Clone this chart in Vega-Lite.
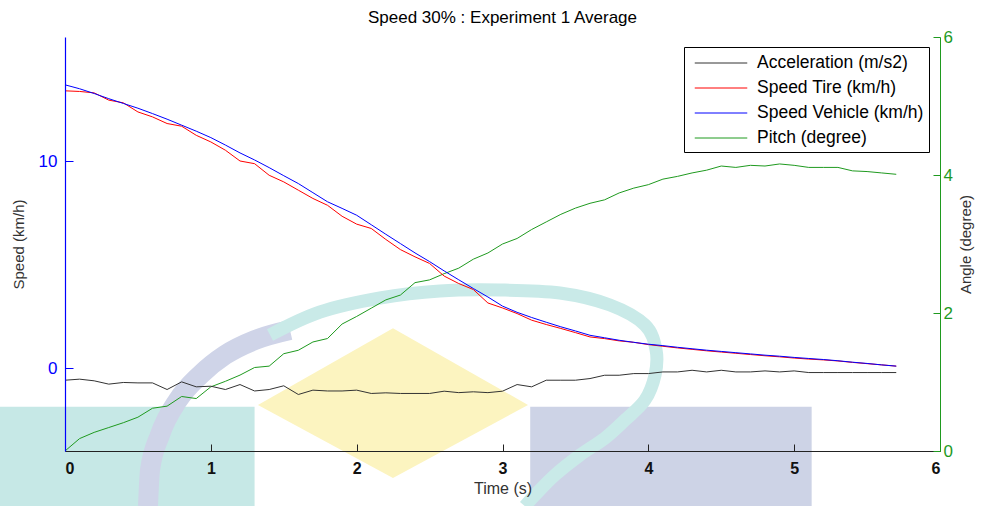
{
  "$schema": "https://vega.github.io/schema/vega-lite/v6.json",
  "width": 875,
  "height": 414,
  "autosize": {"type": "none"},
  "padding": {"left": 65, "top": 37, "right": 44, "bottom": 55},
  "background": "white",
  "title": {
    "text": "Speed 30% : Experiment 1 Average",
    "font": "Liberation Sans",
    "fontSize": 17,
    "fontWeight": "normal",
    "color": "#000000",
    "anchor": "middle",
    "offset": 1
  },
  "datasets": {
    "run": [
      {"t": 0.0, "acc": -0.58, "tire": 13.40, "veh": 13.69, "pitch": 0.00},
      {"t": 0.1, "acc": -0.53, "tire": 13.37, "veh": 13.50, "pitch": 0.18},
      {"t": 0.2, "acc": -0.61, "tire": 13.30, "veh": 13.27, "pitch": 0.27},
      {"t": 0.3, "acc": -0.77, "tire": 12.95, "veh": 13.02, "pitch": 0.34},
      {"t": 0.4, "acc": -0.69, "tire": 12.82, "veh": 12.79, "pitch": 0.41},
      {"t": 0.5, "acc": -0.71, "tire": 12.38, "veh": 12.56, "pitch": 0.49},
      {"t": 0.6, "acc": -0.71, "tire": 12.14, "veh": 12.30, "pitch": 0.62},
      {"t": 0.7, "acc": -1.03, "tire": 11.82, "veh": 12.03, "pitch": 0.65},
      {"t": 0.8, "acc": -0.66, "tire": 11.69, "veh": 11.74, "pitch": 0.79},
      {"t": 0.9, "acc": -0.90, "tire": 11.25, "veh": 11.45, "pitch": 0.76},
      {"t": 1.0, "acc": -0.87, "tire": 10.93, "veh": 11.14, "pitch": 0.93},
      {"t": 1.1, "acc": -1.03, "tire": 10.53, "veh": 10.78, "pitch": 1.01},
      {"t": 1.2, "acc": -0.79, "tire": 10.01, "veh": 10.40, "pitch": 1.10},
      {"t": 1.3, "acc": -1.10, "tire": 9.88, "veh": 10.06, "pitch": 1.21},
      {"t": 1.4, "acc": -1.03, "tire": 9.32, "veh": 9.69, "pitch": 1.23},
      {"t": 1.5, "acc": -0.85, "tire": 9.00, "veh": 9.30, "pitch": 1.41},
      {"t": 1.6, "acc": -1.27, "tire": 8.60, "veh": 8.92, "pitch": 1.46},
      {"t": 1.7, "acc": -1.06, "tire": 8.20, "veh": 8.48, "pitch": 1.58},
      {"t": 1.8, "acc": -1.10, "tire": 7.87, "veh": 8.04, "pitch": 1.63},
      {"t": 1.9, "acc": -1.10, "tire": 7.34, "veh": 7.72, "pitch": 1.84},
      {"t": 2.0, "acc": -1.06, "tire": 6.96, "veh": 7.39, "pitch": 1.95},
      {"t": 2.1, "acc": -1.22, "tire": 6.75, "veh": 6.93, "pitch": 2.07},
      {"t": 2.2, "acc": -1.19, "tire": 6.22, "veh": 6.47, "pitch": 2.19},
      {"t": 2.3, "acc": -1.22, "tire": 5.73, "veh": 6.02, "pitch": 2.26},
      {"t": 2.4, "acc": -1.22, "tire": 5.38, "veh": 5.57, "pitch": 2.44},
      {"t": 2.5, "acc": -1.22, "tire": 5.06, "veh": 5.15, "pitch": 2.48},
      {"t": 2.6, "acc": -1.11, "tire": 4.45, "veh": 4.70, "pitch": 2.57},
      {"t": 2.7, "acc": -1.18, "tire": 4.09, "veh": 4.27, "pitch": 2.65},
      {"t": 2.8, "acc": -1.14, "tire": 3.80, "veh": 3.85, "pitch": 2.78},
      {"t": 2.9, "acc": -1.18, "tire": 3.15, "veh": 3.44, "pitch": 2.87},
      {"t": 3.0, "acc": -1.11, "tire": 2.91, "veh": 3.00, "pitch": 3.00},
      {"t": 3.1, "acc": -0.79, "tire": 2.64, "veh": 2.70, "pitch": 3.08},
      {"t": 3.2, "acc": -0.90, "tire": 2.32, "veh": 2.45, "pitch": 3.21},
      {"t": 3.3, "acc": -0.58, "tire": 2.11, "veh": 2.22, "pitch": 3.32},
      {"t": 3.4, "acc": -0.58, "tire": 1.92, "veh": 2.00, "pitch": 3.43},
      {"t": 3.5, "acc": -0.58, "tire": 1.72, "veh": 1.80, "pitch": 3.52},
      {"t": 3.6, "acc": -0.50, "tire": 1.51, "veh": 1.59, "pitch": 3.59},
      {"t": 3.7, "acc": -0.34, "tire": 1.43, "veh": 1.47, "pitch": 3.64},
      {"t": 3.8, "acc": -0.34, "tire": 1.32, "veh": 1.35, "pitch": 3.74},
      {"t": 3.9, "acc": -0.26, "tire": 1.25, "veh": 1.25, "pitch": 3.81},
      {"t": 4.0, "acc": -0.26, "tire": 1.14, "veh": 1.16, "pitch": 3.86},
      {"t": 4.1, "acc": -0.18, "tire": 1.06, "veh": 1.09, "pitch": 3.94},
      {"t": 4.2, "acc": -0.18, "tire": 0.98, "veh": 1.01, "pitch": 3.98},
      {"t": 4.3, "acc": -0.10, "tire": 0.91, "veh": 0.94, "pitch": 4.03},
      {"t": 4.4, "acc": -0.18, "tire": 0.84, "veh": 0.87, "pitch": 4.07},
      {"t": 4.5, "acc": -0.10, "tire": 0.78, "veh": 0.81, "pitch": 4.13},
      {"t": 4.6, "acc": -0.18, "tire": 0.72, "veh": 0.75, "pitch": 4.11},
      {"t": 4.7, "acc": -0.18, "tire": 0.66, "veh": 0.69, "pitch": 4.14},
      {"t": 4.8, "acc": -0.13, "tire": 0.60, "veh": 0.63, "pitch": 4.13},
      {"t": 4.9, "acc": -0.18, "tire": 0.55, "veh": 0.58, "pitch": 4.16},
      {"t": 5.0, "acc": -0.13, "tire": 0.49, "veh": 0.52, "pitch": 4.14},
      {"t": 5.1, "acc": -0.21, "tire": 0.44, "veh": 0.47, "pitch": 4.11},
      {"t": 5.2, "acc": -0.21, "tire": 0.40, "veh": 0.42, "pitch": 4.11},
      {"t": 5.3, "acc": -0.21, "tire": 0.35, "veh": 0.36, "pitch": 4.11},
      {"t": 5.4, "acc": -0.21, "tire": 0.28, "veh": 0.29, "pitch": 4.06},
      {"t": 5.5, "acc": -0.21, "tire": 0.22, "veh": 0.23, "pitch": 4.05},
      {"t": 5.6, "acc": -0.21, "tire": 0.16, "veh": 0.16, "pitch": 4.03},
      {"t": 5.7, "acc": -0.21, "tire": 0.10, "veh": 0.10, "pitch": 4.01}
    ],
    "names": [
      {"key": "acc", "series": "Acceleration (m/s2)"},
      {"key": "tire", "series": "Speed Tire (km/h)"},
      {"key": "veh", "series": "Speed Vehicle (km/h)"},
      {"key": "pitch", "series": "Pitch (degree)"}
    ]
  },
  "layer": [
    {
      "description": "background emblem, on its own scales in time and angle units",
      "layer": [
        {
          "data": {"values": [{"t": -0.45, "t2": 1.30, "a": 0.64, "a2": -0.8}]},
          "mark": {"type": "rect", "color": "#c6e8e6"},
          "encoding": {
            "x": {"field": "t", "type": "quantitative", "scale": {"domain": [0, 6], "nice": false}, "axis": null},
            "x2": {"field": "t2"},
            "y": {"field": "a", "type": "quantitative", "scale": {"domain": [0, 6], "nice": false, "zero": false}, "axis": null},
            "y2": {"field": "a2"}
          }
        },
        {
          "data": {"values": [{"t": 3.19, "t2": 5.12, "a": 0.64, "a2": -0.8}]},
          "mark": {"type": "rect", "color": "#cdd3e6"},
          "encoding": {
            "x": {"field": "t", "type": "quantitative", "scale": {"domain": [0, 6], "nice": false}, "axis": null},
            "x2": {"field": "t2"},
            "y": {"field": "a", "type": "quantitative", "scale": {"domain": [0, 6], "nice": false, "zero": false}, "axis": null},
            "y2": {"field": "a2"}
          }
        },
        {
          "data": {"values": [
            {"t": 1.323, "a": 0.667, "a2": 0.667},
            {"t": 2.249, "a": 1.78, "a2": -0.39},
            {"t": 3.175, "a": 0.667, "a2": 0.667}
          ]},
          "mark": {"type": "area", "color": "#fcf4c0", "interpolate": "linear"},
          "encoding": {
            "x": {"field": "t", "type": "quantitative", "scale": {"domain": [0, 6], "nice": false}, "axis": null},
            "y": {"field": "a", "type": "quantitative", "scale": {"domain": [0, 6], "nice": false, "zero": false}, "axis": null},
            "y2": {"field": "a2"}
          }
        },
        {
          "data": {"values": [
            {"i": 0, "t": 0.569, "a": -0.80},
            {"i": 1, "t": 0.583, "a": -0.275},
            {"i": 2, "t": 0.651, "a": 0.232},
            {"i": 3, "t": 0.775, "a": 0.739},
            {"i": 4, "t": 0.926, "a": 1.101},
            {"i": 5, "t": 1.097, "a": 1.391},
            {"i": 6, "t": 1.303, "a": 1.609},
            {"i": 7, "t": 1.543, "a": 1.754}
          ]},
          "mark": {"type": "line", "color": "#cfd4e8", "strokeWidth": 20, "strokeCap": "butt", "interpolate": "monotone"},
          "encoding": {
            "x": {"field": "t", "type": "quantitative", "scale": {"domain": [0, 6], "nice": false}, "axis": null},
            "y": {"field": "a", "type": "quantitative", "scale": {"domain": [0, 6], "nice": false, "zero": false}, "axis": null},
            "order": {"field": "i"}
          }
        },
        {
          "data": {"values": [
            {"i": 0, "t": 1.406, "a": 1.681},
            {"i": 1, "t": 1.749, "a": 2.014},
            {"i": 2, "t": 2.160, "a": 2.217},
            {"i": 3, "t": 2.571, "a": 2.319},
            {"i": 4, "t": 2.983, "a": 2.333},
            {"i": 5, "t": 3.394, "a": 2.290},
            {"i": 6, "t": 3.737, "a": 2.116},
            {"i": 7, "t": 3.977, "a": 1.826},
            {"i": 8, "t": 4.053, "a": 1.464},
            {"i": 9, "t": 4.046, "a": 1.101},
            {"i": 10, "t": 3.977, "a": 0.739},
            {"i": 11, "t": 3.840, "a": 0.449},
            {"i": 12, "t": 3.703, "a": 0.188},
            {"i": 13, "t": 3.532, "a": -0.058},
            {"i": 14, "t": 3.360, "a": -0.348},
            {"i": 15, "t": 3.223, "a": -0.638},
            {"i": 16, "t": 3.154, "a": -0.80}
          ]},
          "mark": {"type": "line", "color": "#c9eae8", "strokeWidth": 13, "strokeCap": "butt", "interpolate": "cardinal"},
          "encoding": {
            "x": {"field": "t", "type": "quantitative", "scale": {"domain": [0, 6], "nice": false}, "axis": null},
            "y": {"field": "a", "type": "quantitative", "scale": {"domain": [0, 6], "nice": false, "zero": false}, "axis": null},
            "order": {"field": "i"}
          }
        }
      ]
    },
    {
      "description": "pitch on the right-hand angle axis",
      "data": {"name": "run"},
      "transform": [
        {"fold": ["pitch"], "as": ["key", "value"]},
        {"lookup": "key", "from": {"data": {"name": "names"}, "key": "key", "fields": ["series"]}}
      ],
      "mark": {"type": "line", "strokeWidth": 1},
      "encoding": {
        "x": {
          "field": "t", "type": "quantitative",
          "scale": {"domain": [0, 6], "nice": false},
          "title": "Time (s)",
          "axis": {
            "orient": "bottom",
            "values": [0, 1, 2, 3, 4, 5, 6],
            "format": "d",
            "zindex": 2,
            "tickSize": -7,
            "labelPadding": 16,
            "domainColor": "#222222",
            "tickColor": "#222222",
            "labelColor": "#111111",
            "labelFontSize": 16,
            "labelFontWeight": "bold",
            "titleColor": "#333333",
            "titleFontSize": 16,
            "titleFontWeight": "normal",
            "titlePadding": 4
          }
        },
        "y": {
          "field": "value", "type": "quantitative",
          "scale": {"domain": [0, 6], "nice": false, "zero": false},
          "title": "Angle (degree)",
          "axis": {
            "orient": "right",
            "values": [0, 2, 4, 6],
            "format": "d",
            "zindex": 2,
            "tickSize": -7,
            "labelPadding": 10,
            "domainColor": "#1f9a1f",
            "tickColor": "#1f9a1f",
            "labelColor": "#1f9a1f",
            "labelFontSize": 17,
            "titleColor": "#333333",
            "titleFontSize": 15,
            "titleFontWeight": "normal",
            "titleAngle": -90,
            "titlePadding": 21
          }
        },
        "color": {
          "field": "series", "type": "nominal",
          "scale": {
            "domain": ["Acceleration (m/s2)", "Speed Tire (km/h)", "Speed Vehicle (km/h)", "Pitch (degree)"],
            "range": ["#333333", "#ff0000", "#0000ff", "#1f9a1f"]
          }
        }
      }
    },
    {
      "description": "speeds and acceleration on the left-hand axis",
      "data": {"name": "run"},
      "transform": [
        {"fold": ["acc", "tire", "veh"], "as": ["key", "value"]},
        {"lookup": "key", "from": {"data": {"name": "names"}, "key": "key", "fields": ["series"]}}
      ],
      "mark": {"type": "line", "strokeWidth": 1},
      "encoding": {
        "x": {"field": "t", "type": "quantitative", "scale": {"domain": [0, 6], "nice": false}, "axis": null},
        "y": {
          "field": "value", "type": "quantitative",
          "scale": {"domain": [-4, 16], "nice": false, "zero": false},
          "title": "Speed (km/h)",
          "axis": {
            "orient": "left",
            "values": [0, 10],
            "zindex": 2,
            "tickSize": -8,
            "labelPadding": 16,
            "domainColor": "#0000ff",
            "domainWidth": 1.2,
            "tickColor": "#0000ff",
            "labelColor": "#0000ff",
            "labelFontSize": 17,
            "titleColor": "#333333",
            "titleFontSize": 15,
            "titleFontWeight": "normal",
            "titlePadding": 12
          }
        },
        "color": {
          "field": "series", "type": "nominal",
          "scale": {
            "domain": ["Acceleration (m/s2)", "Speed Tire (km/h)", "Speed Vehicle (km/h)", "Pitch (degree)"],
            "range": ["#333333", "#ff0000", "#0000ff", "#1f9a1f"]
          },
          "legend": {
            "title": null,
            "orient": "none",
            "legendX": 619,
            "legendY": 10,
            "symbolType": "M-0.5,0H4.5",
            "symbolSize": 441,
            "symbolStrokeWidth": 1,
            "labelFont": "Liberation Sans",
            "labelFontSize": 17.5,
            "labelColor": "#000000",
            "labelLimit": 0,
            "labelOffset": 46,
            "strokeColor": "#000000",
            "fillColor": "#ffffff",
            "padding": 5,
            "rowPadding": 5
          }
        }
      }
    }
  ],
  "resolve": {"scale": {"x": "independent", "y": "independent"}},
  "config": {
    "view": {"stroke": null},
    "font": "Liberation Sans",
    "axis": {
      "grid": false,
      "labelFont": "Liberation Sans",
      "titleFont": "Liberation Sans",
      "domainWidth": 1,
      "tickWidth": 1
    }
  }
}
